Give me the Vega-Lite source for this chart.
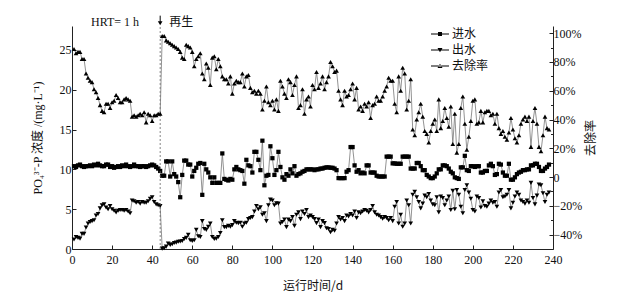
{
"$schema":"https://vega.github.io/schema/vega-lite/v6.json",
"width":481,"height":223,
"autosize":{"type":"none"},
"padding":{"left":72,"top":26,"right":85,"bottom":49},
"background":"white",
"config":{"view":{"stroke":null},"font":"Liberation Serif, Noto Sans CJK SC",
 "axis":{"domainColor":"#222","domainWidth":1,"tickColor":"#222","tickWidth":1,"labelColor":"#111","labelFontSize":12,"labelFont":"Liberation Serif","titleFont":"Liberation Serif, Noto Sans CJK SC","titleFontSize":12,"titleFontWeight":"normal","titleColor":"#111","grid":false,"labelOverlap":false,"labelFlush":false}},
"datasets":{"main":[
{"d":1,"进水":10.4,"出水":1.2,"去除率":89},{"d":2,"进水":10.3,"出水":1.5,"去除率":86},{"d":3,"进水":10.5,"出水":1.4,"去除率":87},{"d":4,"进水":10.6,"出水":1.3,"去除率":87},{"d":5,"进水":10.4,"出水":1.9,"去除率":82},{"d":6,"进水":10.3,"出水":1.9,"去除率":82},{"d":7,"进水":10.4,"出水":2.7,"去除率":72},{"d":8,"进水":10.4,"出水":3.2,"去除率":69},{"d":9,"进水":10.5,"出水":3.4,"去除率":67},{"d":10,"进水":10.4,"出水":3.5,"去除率":66},
{"d":11,"进水":10.6,"出水":3.6,"去除率":61},{"d":12,"进水":10.5,"出水":4.2,"去除率":59},{"d":13,"进水":10.7,"出水":4.4,"去除率":55},{"d":14,"进水":10.5,"出水":5.1,"去除率":50},{"d":15,"进水":10.4,"出水":5.5,"去除率":46},{"d":16,"进水":10.4,"出水":5.6,"去除率":45},{"d":17,"进水":10.6,"出水":5.2,"去除率":51},{"d":18,"进水":10.6,"出水":5.0,"去除率":51},{"d":19,"进水":10.3,"出水":5.4,"去除率":48},{"d":20,"进水":10.4,"出水":5.0,"去除率":52},
{"d":21,"进水":10.2,"出水":4.8,"去除率":53},{"d":22,"进水":10.3,"出水":4.6,"去除率":57},{"d":23,"进水":10.4,"出水":4.8,"去除率":55},{"d":24,"进水":10.3,"出水":4.9,"去除率":52},{"d":25,"进水":10.5,"出水":4.9,"去除率":52},{"d":26,"进水":10.4,"出水":4.8,"去除率":54},{"d":27,"进水":10.6,"出水":4.9,"去除率":55},{"d":28,"进水":10.4,"出水":4.7,"去除率":54},{"d":29,"进水":10.3,"出水":4.5,"去除率":53},{"d":30,"进水":10.4,"出水":6.1,"去除率":42},
{"d":31,"进水":10.6,"出水":6.0,"去除率":43},{"d":32,"进水":10.4,"出水":5.8,"去除率":42},{"d":33,"进水":10.4,"出水":5.9,"去除率":43},{"d":34,"进水":10.3,"出水":5.7,"去除率":44},{"d":35,"进水":10.4,"出水":5.9,"去除率":43},{"d":36,"进水":10.4,"出水":5.8,"去除率":45},{"d":37,"进水":10.3,"出水":5.8,"去除率":38},{"d":38,"进水":10.4,"出水":6.0,"去除率":44},{"d":39,"进水":10.5,"出水":6.3,"去除率":43},{"d":40,"进水":10.6,"出水":6.5,"去除率":39},
{"d":41,"进水":10.5,"出水":5.9,"去除率":43},{"d":42,"进水":10.3,"出水":5.6,"去除率":43},{"d":43,"进水":10.1,"出水":5.5,"去除率":44},{"d":44,"进水":9.8,"出水":5.4,"去除率":44},{"d":45,"进水":9.2,"出水":0.05,"去除率":98},{"d":46,"进水":9.2,"出水":0.1,"去除率":98},{"d":47,"进水":11.0,"出水":0.3,"去除率":95},{"d":48,"进水":11.0,"出水":0.7,"去除率":94},{"d":49,"进水":9.1,"出水":0.5,"去除率":93},{"d":50,"进水":11.0,"出水":0.6,"去除率":92},
{"d":51,"进水":9.4,"出水":0.75,"去除率":91},{"d":52,"进水":9.1,"出水":0.8,"去除率":90},{"d":53,"进水":8.4,"出水":0.9,"去除率":89},{"d":54,"进水":6.5,"出水":0.95,"去除率":87},{"d":55,"进水":9.3,"出水":1.0,"去除率":83},{"d":56,"进水":11.1,"出水":1.25,"去除率":82},{"d":57,"进水":11.1,"出水":1.4,"去除率":92},{"d":58,"进水":10.6,"出水":1.8,"去除率":91},{"d":59,"进水":10.6,"出水":1.1,"去除率":90},{"d":60,"进水":9.1,"出水":1.0,"去除率":87},
{"d":61,"进水":9.8,"出水":1.1,"去除率":77},{"d":62,"进水":10.2,"出水":2.4,"去除率":82},{"d":63,"进水":10.7,"出水":1.6,"去除率":84},{"d":64,"进水":10.8,"出水":1.5,"去除率":86},{"d":65,"进水":6.8,"出水":3.5,"去除率":72},{"d":66,"进水":10.7,"出水":2.5,"去除率":68},{"d":67,"进水":10.0,"出水":2.4,"去除率":79},{"d":68,"进水":9.6,"出水":2.8,"去除率":76},{"d":69,"进水":9.0,"出水":3.2,"去除率":64},{"d":70,"进水":8.3,"出水":1.5,"去除率":83},
{"d":71,"进水":9.0,"出水":1.25,"去除率":84},{"d":72,"进水":8.3,"出水":1.3,"去除率":75},{"d":73,"进水":8.3,"出水":1.5,"去除率":82},{"d":74,"进水":8.3,"出水":2.0,"去除率":77},{"d":75,"进水":12.0,"出水":3.6,"去除率":70},{"d":76,"进水":8.8,"出水":2.75,"去除率":68},{"d":77,"进水":8.7,"出水":2.75,"去除率":68},{"d":78,"进水":8.6,"出水":2.9,"去除率":65},{"d":79,"进水":8.8,"出水":2.8,"去除率":70},{"d":80,"进水":8.7,"出水":3.0,"去除率":58},
{"d":81,"进水":10.0,"出水":3.5,"去除率":65},{"d":82,"进水":10.3,"出水":3.3,"去除率":67},{"d":83,"进水":10.0,"出水":3.25,"去除率":66},{"d":84,"进水":9.9,"出水":3.3,"去除率":66},{"d":85,"进水":9.8,"出水":2.8,"去除率":72},{"d":86,"进水":8.2,"出水":3.2,"去除率":63},{"d":87,"进水":11.2,"出水":3.3,"去除率":70},{"d":88,"进水":10.5,"出水":3.75,"去除率":71},{"d":89,"进水":10.4,"出水":3.9,"去除率":62},{"d":90,"进水":9.6,"出水":4.0,"去除率":59},
{"d":91,"进水":12.2,"出水":4.7,"去除率":60},{"d":92,"进水":12.2,"出水":5.4,"去除率":58},{"d":93,"进水":11.2,"出水":5.0,"去除率":60},{"d":94,"进水":9.9,"出水":5.25,"去除率":58},{"d":95,"进水":13.6,"出水":4.3,"去除率":47},{"d":96,"进水":8.0,"出水":4.5,"去除率":53},{"d":97,"进水":9.2,"出水":3.5,"去除率":63},{"d":98,"进水":9.3,"出水":5.5,"去除率":52},{"d":99,"进水":12.9,"出水":6.2,"去除率":50},{"d":100,"进水":11.4,"出水":6.1,"去除率":53},
{"d":101,"进水":9.3,"出水":5.5,"去除率":47},{"d":102,"进水":9.9,"出水":5.75,"去除率":54},{"d":103,"进水":12.2,"出水":5.7,"去除率":46},{"d":104,"进水":10.3,"出水":3.2,"去除率":67},{"d":105,"进水":9.0,"出水":3.4,"去除率":63},{"d":106,"进水":8.7,"出水":3.7,"去除率":58},{"d":107,"进水":9.4,"出水":2.75,"去除率":55},{"d":108,"进水":9.2,"出水":3.7,"去除率":68},{"d":109,"进水":10.0,"出水":3.5,"去除率":66},{"d":110,"进水":9.5,"出水":4.0,"去除率":57},
{"d":111,"进水":10.4,"出水":2.9,"去除率":64},{"d":112,"进水":9.2,"出水":4.3,"去除率":70},{"d":113,"进水":9.4,"出水":4.6,"去除率":48},{"d":114,"进水":9.5,"出水":3.75,"去除率":50},{"d":115,"进水":9.7,"出水":4.7,"去除率":61},{"d":116,"进水":9.8,"出水":4.4,"去除率":44},{"d":117,"进水":10.0,"出水":4.9,"去除率":54},{"d":118,"进水":10.0,"出水":4.0,"去除率":56},{"d":119,"进水":10.0,"出水":4.2,"去除率":49},{"d":120,"进水":10.0,"出水":4.0,"去除率":64},
{"d":121,"进水":9.9,"出水":3.75,"去除率":61},{"d":122,"进水":10.0,"出水":3.25,"去除率":73},{"d":123,"进水":10.0,"出水":3.7,"去除率":62},{"d":124,"进水":10.1,"出水":2.75,"去除率":65},{"d":125,"进水":10.1,"出水":3.5,"去除率":70},{"d":126,"进水":10.2,"出水":3.25,"去除率":61},{"d":127,"进水":10.25,"出水":2.6,"去除率":66},{"d":128,"进水":10.25,"出水":2.5,"去除率":70},{"d":129,"进水":10.2,"出水":2.1,"去除率":80},{"d":130,"进水":10.2,"出水":2.4,"去除率":77},
{"d":131,"进水":10.1,"出水":2.3,"去除率":73},{"d":132,"进水":9.9,"出水":3.2,"去除率":74},{"d":133,"进水":8.9,"出水":4.0,"去除率":60},{"d":134,"进水":8.9,"出水":3.7,"去除率":54},{"d":135,"进水":8.9,"出水":3.9,"去除率":50},{"d":136,"进水":8.9,"出水":3.5,"去除率":60},{"d":137,"进水":9.7,"出水":4.2,"去除率":56},{"d":138,"进水":9.9,"出水":4.1,"去除率":57},{"d":139,"进水":12.8,"出水":4.4,"去除率":61},{"d":140,"进水":12.8,"出水":4.2,"去除率":65},
{"d":141,"进水":10.5,"出水":4.7,"去除率":54},{"d":142,"进水":9.7,"出水":3.9,"去除率":62},{"d":143,"进水":9.9,"出水":4.6,"去除率":47},{"d":144,"进水":9.5,"出水":4.5,"去除率":49},{"d":145,"进水":9.6,"出水":4.7,"去除率":46},{"d":146,"进水":9.5,"出水":4.9,"去除率":51},{"d":147,"进水":10.5,"出水":4.8,"去除率":49},{"d":148,"进水":10.5,"出水":4.6,"去除率":52},{"d":149,"进水":9.6,"出水":4.9,"去除率":41},{"d":150,"进水":9.6,"出水":5.4,"去除率":50},
{"d":151,"进水":9.6,"出水":4.6,"去除率":51},{"d":152,"进水":9.2,"出水":4.3,"去除率":56},{"d":153,"进水":9.1,"出水":4.2,"去除率":53},{"d":154,"进水":9.1,"出水":4.0,"去除率":53},{"d":155,"进水":9.1,"出水":3.8,"去除率":56},{"d":156,"进水":9.1,"出水":4.0,"去除率":60},{"d":157,"进水":11.6,"出水":3.9,"去除率":63},{"d":158,"进水":11.6,"出水":3.6,"去除率":69},{"d":159,"进水":11.6,"出水":3.9,"去除率":67},{"d":160,"进水":10.75,"出水":3.5,"去除率":67},
{"d":161,"进水":10.75,"出水":5.3,"去除率":51},{"d":162,"进水":10.7,"出水":5.9,"去除率":45},{"d":163,"进水":10.7,"出水":3.2,"去除率":70},{"d":164,"进水":10.7,"出水":4.3,"去除率":60},{"d":165,"进水":11.6,"出水":2.8,"去除率":76},{"d":166,"进水":11.6,"出水":3.2,"去除率":72},{"d":167,"进水":11.6,"出水":6.1,"去除率":47},{"d":168,"进水":11.6,"出水":5.5,"去除率":53},{"d":169,"进水":10.1,"出水":3.2,"去除率":68},{"d":170,"进水":10.1,"出水":6.8,"去除率":33},
{"d":171,"进水":10.1,"出水":7.2,"去除率":29},{"d":172,"进水":10.8,"出水":6.5,"去除率":40},{"d":173,"进水":10.8,"出水":5.9,"去除率":45},{"d":174,"进水":10.4,"出水":5.1,"去除率":51},{"d":175,"进水":9.9,"出水":5.7,"去除率":42},{"d":176,"进水":9.9,"出水":6.7,"去除率":32},{"d":177,"进水":9.3,"出水":6.5,"去除率":30},{"d":178,"进水":9.1,"出水":6.9,"去除率":24},{"d":179,"进水":8.9,"出水":6.1,"去除率":32},{"d":180,"进水":8.9,"出水":5.6,"去除率":37},
{"d":181,"进水":9.1,"出水":5.5,"去除率":40},{"d":182,"进水":9.5,"出水":6.5,"去除率":32},{"d":183,"进水":10.0,"出水":4.6,"去除率":54},{"d":184,"进水":10.0,"出水":6.6,"去除率":34},{"d":185,"进水":10.5,"出水":6.4,"去除率":39},{"d":186,"进水":10.5,"出水":5.5,"去除率":48},{"d":187,"进水":10.4,"出水":6.1,"去除率":41},{"d":188,"进水":10.1,"出水":6.6,"去除率":35},{"d":189,"进水":9.7,"出水":4.9,"去除率":49},{"d":190,"进水":9.5,"出水":7.3,"去除率":23},
{"d":191,"进水":9.0,"出水":5.0,"去除率":44},{"d":192,"进水":8.9,"出水":7.4,"去除率":17},{"d":193,"进水":8.8,"出水":6.8,"去除率":23},{"d":194,"进水":10.25,"出水":5.3,"去除率":48},{"d":195,"进水":10.25,"出水":4.5,"去除率":56},{"d":196,"进水":11.7,"出水":7.4,"去除率":37},{"d":197,"进水":9.9,"出水":8.0,"去除率":19},{"d":198,"进水":9.8,"出水":7.1,"去除率":28},{"d":199,"进水":10.4,"出水":6.3,"去除率":39},{"d":200,"进水":10.4,"出水":4.9,"去除率":53},
{"d":201,"进水":10.3,"出水":4.7,"去除率":54},{"d":202,"进水":10.4,"出水":6.6,"去除率":37},{"d":203,"进水":10.4,"出水":6.4,"去除率":38},{"d":204,"进水":9.6,"出水":5.2,"去除率":46},{"d":205,"进水":9.6,"出水":6.0,"去除率":38},{"d":206,"进水":9.8,"出水":5.4,"去除率":45},{"d":207,"进水":9.8,"出水":5.3,"去除率":46},{"d":208,"进水":10.5,"出水":5.7,"去除率":46},{"d":209,"进水":10.7,"出水":6.1,"去除率":43},{"d":210,"进水":10.4,"出水":5.8,"去除率":44},
{"d":211,"进水":9.3,"出水":5.9,"去除率":37},{"d":212,"进水":9.4,"出水":5.3,"去除率":44},{"d":213,"进水":10.7,"出水":7.1,"去除率":34},{"d":214,"进水":10.6,"出水":7.4,"去除率":30},{"d":215,"进水":9.6,"出水":6.5,"去除率":32},{"d":216,"进水":9.2,"出水":6.6,"去除率":28},{"d":217,"进水":9.2,"出水":6.8,"去除率":26},{"d":218,"进水":10.7,"出水":7.4,"去除率":31},{"d":219,"进水":8.7,"出水":5.1,"去除率":41},{"d":220,"进水":8.7,"出水":5.8,"去除率":33},
{"d":221,"进水":9.0,"出水":6.6,"去除率":27},{"d":222,"进水":9.4,"出水":7.1,"去除率":24},{"d":223,"进水":9.6,"出水":6.8,"去除率":29},{"d":224,"进水":9.7,"出水":6.1,"去除率":37},{"d":225,"进水":9.9,"出水":5.9,"去除率":40},{"d":226,"进水":9.9,"出水":5.7,"去除率":42},{"d":227,"进水":10.0,"出水":6.1,"去除率":39},{"d":228,"进水":10.0,"出水":5.8,"去除率":42},{"d":229,"进水":10.5,"出水":8.3,"去除率":21},{"d":230,"进水":10.5,"出水":6.4,"去除率":39},
{"d":231,"进水":10.7,"出水":5.6,"去除率":48},{"d":232,"进水":10.7,"出水":6.7,"去除率":37},{"d":233,"进水":10.3,"出水":8.1,"去除率":21},{"d":234,"进水":9.8,"出水":8.0,"去除率":18},{"d":235,"进水":9.8,"出水":7.0,"去除率":29},{"d":236,"进水":10.1,"出水":5.9,"去除率":42},{"d":237,"进水":10.3,"出水":6.8,"去除率":34},{"d":238,"进水":10.6,"出水":7.1,"去除率":33}
]},
"layer":[
 {"data":{"name":"main"},
  "layer":[
  {"transform":[{"fold":["进水","出水"],"as":["key","val"]}],
   "mark":{"type":"line","color":"#777","strokeWidth":0.8},
   "encoding":{
    "x":{"field":"d","type":"quantitative","scale":{"domain":[0,240],"nice":false},
     "axis":{"title":"运行时间/d","titleFont":"Noto Sans CJK SC","values":[0,10,20,30,40,50,60,70,80,90,100,110,120,130,140,150,160,170,180,190,200,210,220,230,240],
      "labelExpr":"datum.value % 20 === 0 ? datum.label : ''","labelOverlap":false,"labelFontSize":{"condition":{"test":"datum.value % 20 === 0","value":12},"value":1},"tickSize":{"condition":{"test":"datum.value % 20 === 0","value":-4},"value":-2.5},"labelPadding":9,"titlePadding":15}},
    "y":{"field":"val","type":"quantitative","scale":{"domain":[0,28],"nice":false},
     "axis":{"orient":"left","title":"PO₄³⁻-P 浓度 /(mg·L⁻¹)","values":[0,2.5,5,7.5,10,12.5,15,17.5,20,22.5,25,27.5],
      "labelExpr":"datum.value % 5 === 0 ? datum.label : ''","labelOverlap":false,"labelFontSize":{"condition":{"test":"datum.value % 5 === 0","value":12},"value":1},"tickSize":{"condition":{"test":"datum.value % 5 === 0","value":-4},"value":-2.5},"labelPadding":5,"titlePadding":15}},
    "detail":{"field":"key"}}},
  {"mark":{"type":"point","shape":"square","filled":true,"color":"black","opacity":1,"size":18},
   "encoding":{"x":{"field":"d","type":"quantitative"},"y":{"field":"进水","type":"quantitative","title":"PO₄³⁻-P 浓度 /(mg·L⁻¹)"}}},
  {"mark":{"type":"point","shape":"triangle-down","filled":true,"color":"black","opacity":1,"size":22},
   "encoding":{"x":{"field":"d","type":"quantitative"},"y":{"field":"出水","type":"quantitative","title":"PO₄³⁻-P 浓度 /(mg·L⁻¹)"}}},
  {"data":{"values":[]},
   "mark":{"type":"point","filled":true,"color":"black","opacity":1,"size":324},
   "encoding":{
    "shape":{"field":"key","type":"nominal","scale":{"domain":["进水","出水","去除率"],"range":["M-1,-0.05H1V0.05H-1ZM-0.22,-0.22H0.22V0.22H-0.22Z","M-1,-0.05H1V0.05H-1ZM-0.28,-0.22H0.28L0,0.26Z","M-1,-0.05H1V0.05H-1ZM-0.28,0.22H0.28L0,-0.26Z"]},
     "legend":{"orient":"none","legendX":358,"legendY":-2,"title":null,"labelFont":"Noto Sans CJK SC","labelFontSize":12,"labelColor":"#111","symbolSize":324,"rowPadding":-5,"labelOffset":2,"symbolFillColor":"black","symbolOpacity":1}}}},
  {"data":{"values":[{}]},"mark":{"type":"rule","color":"#666","strokeDash":[2,2],"strokeWidth":0.8},
   "encoding":{"x":{"datum":44},"y":{"datum":0},"y2":{"datum":28}}},
  {"data":{"values":[{}]},"mark":{"type":"rule","color":"black","strokeWidth":1},
   "encoding":{"x":{"datum":44},"y":{"datum":29.3},"y2":{"datum":28.5}}},
  {"data":{"values":[{}]},"mark":{"type":"point","shape":"triangle-down","filled":true,"color":"black","opacity":1,"size":22},
   "encoding":{"x":{"datum":44},"y":{"datum":28.35}}},
  {"data":{"values":[{}]},"mark":{"type":"text","text":"HRT= 1 h","font":"Liberation Serif","fontSize":12,"color":"#111","align":"center","baseline":"middle"},
   "encoding":{"x":{"datum":21.5},"y":{"datum":28.55}}},
  {"data":{"values":[{}]},"mark":{"type":"text","text":"再生","font":"Noto Sans CJK SC","fontSize":12,"color":"#111","align":"center","baseline":"middle"},
   "encoding":{"x":{"datum":54.5},"y":{"datum":28.55}}}
 ]},
 {"data":{"name":"main"},
  "layer":[
  {"mark":{"type":"line","color":"#777","strokeWidth":0.8},
   "encoding":{
    "x":{"field":"d","type":"quantitative"},
    "y":{"field":"去除率","type":"quantitative","scale":{"domain":[-50,105],"nice":false},
     "axis":{"orient":"right","title":"去除率","titleFont":"Noto Sans CJK SC","titleAngle":270,"values":[-40,-30,-20,-10,0,10,20,30,40,50,60,70,80,90,100],
      "labelExpr":"datum.value % 20 === 0 ? (datum.value === 0 ? '0' : replace(datum.value + '%', '-', '−')) : ''","labelOverlap":false,"labelSeparation":0,"labelFontSize":{"condition":{"test":"datum.value % 20 === 0","value":12},"value":1},"tickSize":{"condition":{"test":"datum.value % 20 === 0","value":-4},"value":-2.5},"labelPadding":4,"titlePadding":16}}}},
  {"mark":{"type":"point","shape":"triangle-up","filled":true,"color":"black","opacity":1,"size":22},
   "encoding":{
    "x":{"field":"d","type":"quantitative"},
    "y":{"field":"去除率","type":"quantitative",
     "axis":{"orient":"right","title":"去除率","titleFont":"Noto Sans CJK SC","titleAngle":270,"values":[-40,-30,-20,-10,0,10,20,30,40,50,60,70,80,90,100],
      "labelExpr":"datum.value % 20 === 0 ? (datum.value === 0 ? '0' : replace(datum.value + '%', '-', '−')) : ''","labelOverlap":false,"labelSeparation":0,"labelFontSize":{"condition":{"test":"datum.value % 20 === 0","value":12},"value":1},"tickSize":{"condition":{"test":"datum.value % 20 === 0","value":-4},"value":-2.5},"labelPadding":4,"titlePadding":16}}}}
 ]}
],
"resolve":{"scale":{"y":"independent"},"axis":{"y":"independent"}}
}
